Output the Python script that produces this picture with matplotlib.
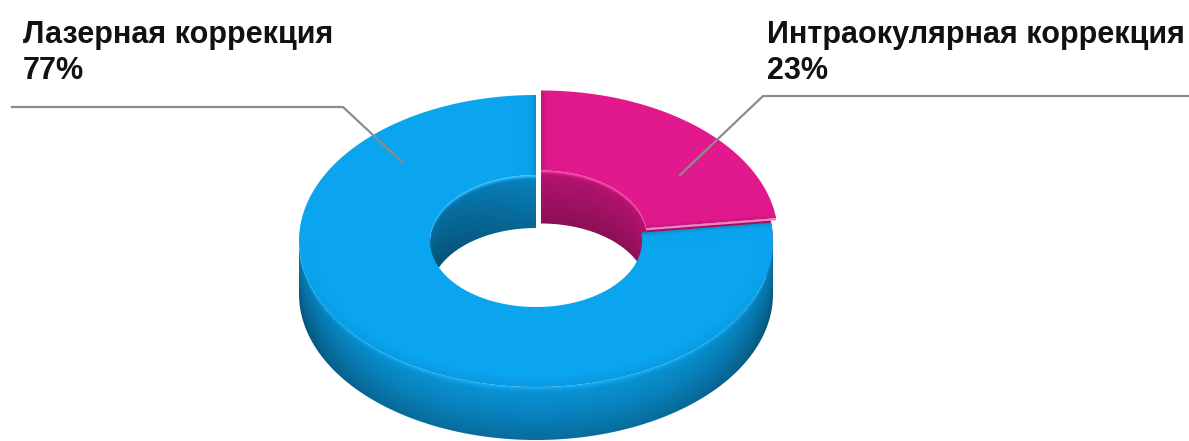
import numpy as np
import matplotlib
matplotlib.use("Agg")
import matplotlib.pyplot as plt
from matplotlib.patches import Polygon
from matplotlib.colors import to_rgb

# ---- data ----
labels = ["Лазерная коррекция", "Интраокулярная коррекция"]
values = [77, 23]
pct_labels = ["77%", "23%"]
colors = ["#0BA4EE", "#E2198C"]
# small per-slice displacement (pixels) that opens the gaps between slices
offsets = [(-2.0, 2.0), (3.0, -2.5)]

# ---- figure in pixel coordinates ----
W, H = 1189, 441
fig = plt.figure(figsize=(W / 100, H / 100), dpi=100)
ax = fig.add_axes([0, 0, 1, 1])
ax.set_xlim(0, W)
ax.set_ylim(H, 0)
ax.axis("off")

# donut geometry (projected ellipse)
cx, cy = 538, 239
rx, ry = 237, 146
irx, iry = 106, 66
depth = 53


def shade_arr(col, f):
    """Darken (f < 1) or lighten (f > 1) a base colour, per pixel."""
    c = np.array(to_rgb(col))[None, None, :]
    f = f[..., None]
    dark = c * f
    light = c + (1 - c) * (f - 1)
    return np.clip(np.where(f < 1, dark, light), 0, 1)


def paint(verts, col, ffun, zorder):
    verts = np.asarray(verts)
    x0, y0 = np.floor(verts.min(axis=0)) - 2
    x1, y1 = np.ceil(verts.max(axis=0)) + 2
    xs = np.arange(x0, x1) + 0.5
    ys = np.arange(y0, y1) + 0.5
    X, Y = np.meshgrid(xs, ys)
    img = shade_arr(col, ffun(X, Y))
    im = ax.imshow(img, extent=(x0, x1, y1, y0), origin="upper",
                   interpolation="bilinear", zorder=zorder, aspect="auto")
    im.set_clip_path(Polygon(verts, closed=True, transform=ax.transData))
    return im


def ell(t, a_r, b_r, dz, off):
    t = np.atleast_1d(t)
    return np.column_stack([cx + off[0] + a_r * np.cos(t),
                            cy + off[1] - b_r * np.sin(t) + dz])


total = float(sum(values))
start = np.pi / 2 + 2 * np.pi * values[0] / total
slices = []
a = start
for v, c, off in zip(values, colors, offsets):
    span = 2 * np.pi * v / total
    slices.append((a, a - span, off, c))
    a -= span

# silhouette of the large slice, used to trim the cut faces
big_off = slices[0][2]
tt = np.linspace(0, np.pi, 200)
sil = np.vstack([ell(tt, rx, ry, 0, big_off),
                 ell(tt + np.pi, rx, ry, depth, big_off)])
sil_patch = Polygon(sil, closed=True, transform=ax.transData)

for t0, t1, off, c in slices:
    ox, oy = off

    # ---- cut faces ----
    for te in (t0, t1):
        verts = np.vstack([ell(te, irx, iry, 0, off), ell(te, rx, ry, 0, off),
                           ell(te, rx, ry, depth, off), ell(te, irx, iry, depth, off)])
        p = Polygon(verts, closed=True,
                    facecolor=tuple(np.array(to_rgb(c)) * 0.70),
                    edgecolor="none", zorder=1)
        ax.add_patch(p)
        p.set_clip_path(sil_patch)

    ts = np.linspace(t0, t1, 400)

    # ---- inner wall (back half of the hole) ----
    back = np.sin(ts) > 0
    if back.any():
        idx = np.where(back)[0]
        for r in np.split(idx, np.where(np.diff(idx) > 1)[0] + 1):
            tr = ts[r]
            verts = np.vstack([ell(tr, irx, iry, 0, off),
                               ell(tr[::-1], irx, iry, depth, off)])

            def f_inner(X, Y, ox=ox, oy=oy):
                cc = np.clip((X - cx - ox) / irx, -1, 1)
                ytop = cy + oy - iry * np.sqrt(1 - cc ** 2)
                h = np.clip((Y - ytop) / depth, 0, 1)
                f = 0.80 - 0.18 * h - 0.14 * np.abs(np.clip(cc, -1, 0)) ** 1.5
                return f + 0.45 * np.exp(-(h / 0.05) ** 2)
            paint(verts, c, f_inner, 2)

    # ---- outer wall (front half) ----
    front = np.sin(ts) < 0
    if front.any():
        idx = np.where(front)[0]
        for r in np.split(idx, np.where(np.diff(idx) > 1)[0] + 1):
            tr = ts[r]
            verts = np.vstack([ell(tr, rx, ry, 0, off),
                               ell(tr[::-1], rx, ry, depth, off)])

            def f_outer(X, Y, ox=ox, oy=oy):
                cc = np.clip((X - cx - ox) / rx, -1, 1)
                ytop = cy + oy + ry * np.sqrt(1 - cc ** 2)
                h = np.clip((Y - ytop) / depth, 0, 1)
                f = 0.90 - 0.24 * h ** 1.2 - 0.16 * np.abs(cc) ** 4
                return f + 0.16 * np.exp(-(h / 0.06) ** 2)
            paint(verts, c, f_outer, 3)

    # ---- top face ----
    verts = np.vstack([ell(ts, rx, ry, 0, off), ell(ts[::-1], irx, iry, 0, off)])

    def f_top(X, Y, ox=ox, oy=oy, t0=t0, t1=t1):
        u = (X - cx - ox) / rx
        v = -(Y - cy - oy) / ry
        s = np.sqrt(u ** 2 + v ** 2)
        tang = np.arctan2(v, u)
        f = np.ones_like(X)
        # rounded outer rim towards the viewer
        f -= 0.07 * np.clip((s - 0.93) / 0.07, 0, 1) * np.clip(-v, 0, 1)
        # soft rounding next to the cut edges
        d0 = np.mod(t0 - tang, 2 * np.pi) * s * rx
        d1 = np.mod(tang - t1, 2 * np.pi) * s * rx
        f -= 0.12 * np.exp(-(np.minimum(d0, d1) / 4.0) ** 2)
        return f
    paint(verts, c, f_top, 4)

# light rim highlight along the lower cut edge of the small slice
t0, t1, off, c = slices[1]
rr = np.linspace(0, 1, 20)
hx = cx + off[0] + (irx + rr * (rx - irx)) * np.cos(t1)
hy = cy + off[1] - (iry + rr * (ry - iry)) * np.sin(t1) + 1.0
hl = np.array(to_rgb(c))
ax.plot(hx, hy, color=tuple(hl + (1 - hl) * 0.45), lw=1.6,
        solid_capstyle="butt", zorder=5)

# ---- labels with leader lines ----
line_col = "#8C8C8C"
ax.plot([12, 343, 403], [107, 107, 163], color=line_col, lw=1.6, zorder=6)
ax.plot([1189, 763, 680], [96, 96, 175], color=line_col, lw=1.6, zorder=6)

font = dict(family=["Liberation Sans", "DejaVu Sans"], weight="bold",
            fontsize=22, color="#111111", va="baseline", ha="left", zorder=7)
ax.text(23, 43, labels[0], **font)
ax.text(23, 79, pct_labels[0], **font)
ax.text(767, 43, labels[1], **font)
ax.text(767, 79, pct_labels[1], **font)

fig.savefig("out.png", dpi=100, facecolor="white")
